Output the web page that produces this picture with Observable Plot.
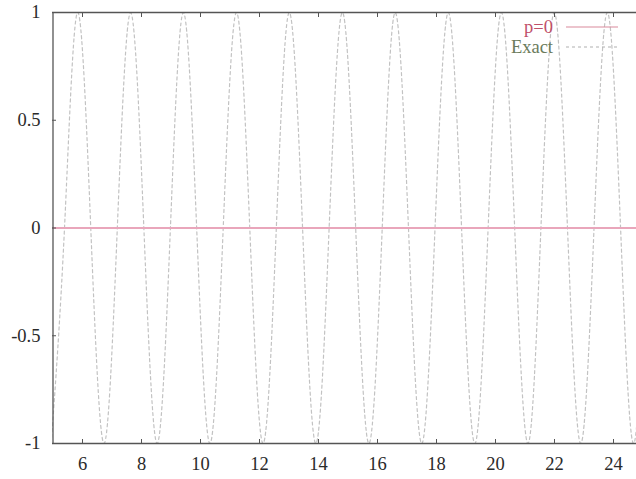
<!DOCTYPE html>
<html>
<head>
<meta charset="utf-8">
<script src="https://cdn.jsdelivr.net/npm/d3@7"></script>
<script src="https://cdn.jsdelivr.net/npm/@observablehq/plot@0.6"></script>
<style>
  html, body { margin: 0; padding: 0; background: #fff; }
  #chart { width: 636px; height: 479px; }
</style>
</head>
<body>
<div id="chart"></div>
<script>
// "Exact" curve: extrema and zero crossings
const exactX = [4.94, 5.39, 5.83, 6.28, 6.73, 7.18, 7.63, 8.08, 8.53, 8.98, 9.42, 9.87, 10.32, 10.77, 11.22, 11.67, 12.12, 12.57, 13.01, 13.46, 13.91, 14.36, 14.81, 15.26, 15.71, 16.16, 16.60, 17.05, 17.50, 17.95, 18.40, 18.85, 19.30, 19.75, 20.20, 20.65, 21.10, 21.54, 21.99, 22.44, 22.89, 23.34, 23.79, 24.24, 24.69, 25.13, 25.58];
const exactY = [-1, 0, 1, 0, -1, 0, 1, 0, -1, 0, 1, 0, -1, 0, 1, 0, -1, 0, 1, 0, -1, 0, 1, 0, -1, 0, 1, 0, -1, 0, 1, 0, -1, 0, 1, 0, -1, 0, 1, 0, -1, 0, 1, 0, -1, 0, 1];
// "p=0" series
const p0X = [5, 25];
const p0Y = [0, 0];
const xTicks = [6, 8, 10, 12, 14, 16, 18, 20, 22, 24];
const yTicks = [-1, -0.5, 0, 0.5, 1];
const legendLabels = ["p=0", "Exact"];

const exact = exactX.map((x, i) => ({x, y: exactY[i]}));
const p0 = p0X.map((x, i) => ({x, y: p0Y[i]}));

const font = "'Liberation Serif', 'DejaVu Serif', serif";
const fs = 18.5;
const plot = Plot.plot({
  width: 636,
  height: 479,
  marginLeft: 52,
  marginRight: 0,
  marginTop: 12,
  marginBottom: 36,
  style: {fontFamily: font, fontSize: fs + "px", color: "#2a2a2a", background: "#fff"},
  x: {domain: [5, 25], range: [52.5, 642.5]},
  y: {domain: [-1, 1]},
  marks: [
    Plot.line(exact, {x: "x", y: "y", curve: "natural", stroke: "#c2c2c2", strokeWidth: 1.2, strokeDasharray: "3,3", clip: true}),
    Plot.line(p0, {x: "x", y: "y", stroke: "#e9a6bb", strokeWidth: 2, clip: true}),
    Plot.ruleY([-1, 1], {stroke: "#555", strokeWidth: 1.3}),
    Plot.ruleX([5], {stroke: "#555", strokeWidth: 1.3}),
    Plot.axisX({ticks: xTicks, tickSize: -4, tickPadding: 17, tickFormat: d => String(d), label: null, stroke: "#555", fill: "#2a2a2a", fontSize: fs, fontFamily: font}),
    Plot.axisX({anchor: "top", ticks: xTicks, tickSize: -4, tickFormat: () => "", label: null, stroke: "#555"}),
    Plot.axisY({ticks: yTicks, tickSize: -4, tickPadding: 16, tickFormat: d => String(d), label: null, stroke: "#555", fill: "#2a2a2a", fontSize: fs, fontFamily: font})
  ]
});
document.getElementById("chart").appendChild(plot);

// legend
const svg = d3.select(plot);
const lg = svg.append("g").attr("font-family", font).attr("font-size", fs);
const rows = [
  {label: legendLabels[0], color: "#c0506a", stroke: "#d98a9c", dash: null, y: 27},
  {label: legendLabels[1], color: "#6b7b5b", stroke: "#b0b0b0", dash: "3,3", y: 47}
];
rows.forEach(r => {
  lg.append("text").attr("x", 553).attr("y", r.y).attr("dy", "0.35em")
    .attr("text-anchor", "end").attr("fill", r.color).text(r.label);
  lg.append("line").attr("x1", 566).attr("x2", 618).attr("y1", r.y).attr("y2", r.y)
    .attr("stroke", r.stroke).attr("stroke-width", 1.2)
    .attr("stroke-dasharray", r.dash);
});
</script>
</body>
</html>
